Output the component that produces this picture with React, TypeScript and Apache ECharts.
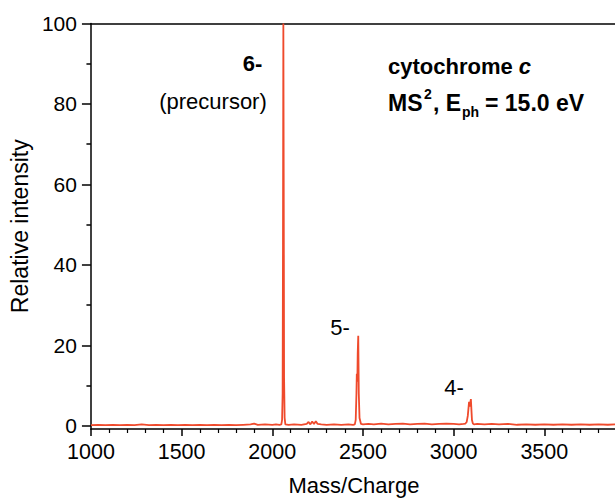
import React, { useEffect, useRef } from "react";
import * as echarts from "echarts";

// Mass/Charge (x) and relative intensity (y) of the spectrum trace
const massCharge = [
  1000, 1040, 1080, 1120, 1160, 1200, 1240, 1280, 1320, 1360, 1400, 1440, 1480,
  1520, 1560, 1600, 1640, 1680, 1720, 1760, 1800, 1840, 1880, 1900, 1920, 1960,
  2000, 2020, 2040, 2050, 2054, 2057, 2059, 2061, 2062, 2063, 2065, 2068, 2072,
  2090, 2120, 2160, 2190, 2200, 2210, 2220, 2230, 2240, 2250, 2270, 2300, 2340,
  2380, 2420, 2445, 2455, 2460, 2464, 2466, 2469, 2471, 2474, 2477, 2481, 2489,
  2500, 2530, 2560, 2600, 2640, 2680, 2720, 2760, 2800, 2840, 2880, 2920, 2960,
  3000, 3030, 3055, 3065, 3072, 3078, 3082, 3085, 3088, 3091, 3095, 3098, 3101,
  3106, 3112, 3130, 3170, 3210, 3250, 3300, 3350, 3400, 3450, 3500, 3550, 3600,
  3650, 3700, 3750, 3800, 3850, 3900, 3950, 4000,
];
const intensity = [
  0.2, 0.3, 0.2, 0.3, 0.2, 0.3, 0.2, 0.4, 0.2, 0.3, 0.2, 0.3, 0.2,
  0.3, 0.2, 0.3, 0.2, 0.3, 0.2, 0.3, 0.2, 0.3, 0.4, 0.6, 0.3, 0.4,
  0.3, 0.4, 0.3, 0.4, 1.5, 8, 45, 100, 100, 60, 12, 2, 0.4,
  0.3, 0.4, 0.3, 0.5, 1.0, 0.4, 1.1, 0.5, 1.2, 0.5, 0.4, 0.3, 0.4,
  0.3, 0.4, 0.3, 0.4, 1.5, 8, 13, 11, 18, 22.4, 8, 2, 0.5,
  0.4, 0.5, 0.4, 0.6, 0.4, 0.5, 0.6, 0.4, 0.5, 0.6, 0.4, 0.5, 0.6,
  0.5, 0.4, 0.5, 0.6, 1.0, 2.5, 4.5, 6.0, 4.8, 5.5, 6.7, 4.0, 1.5,
  0.6, 0.4, 0.5, 0.4, 0.5, 0.4, 0.5, 0.3, 0.4, 0.3, 0.4, 0.3, 0.4,
  0.3, 0.4, 0.3, 0.4, 0.3, 0.4, 0.3, 0.3,
];

const yMajorTicks = [0, 20, 40, 60, 80, 100];
const yMinorTicks = [10, 30, 50, 70, 90];

const xAxisName = "Mass/Charge";
const yAxisName = "Relative intensity";

const FONT = "'Liberation Sans', Arial, Helvetica, sans-serif";
const RED = "#ef4a2c";

function txt(text: string, x: number, y: number, size: number, opts: any = {}) {
  const align = opts.align || "center";
  return {
    type: "text",
    silent: true,
    style: {
      text,
      x,
      y,
      fontSize: size,
      fontFamily: FONT,
      fontWeight: opts.bold ? "bold" : "normal",
      fontStyle: opts.italic ? "italic" : "normal",
      fill: "#000",
      align,
      textAlign: align,
      verticalAlign: "middle",
      textVerticalAlign: "middle",
      rich: opts.rich,
    },
  };
}

export default function App() {
  const ref = useRef<HTMLDivElement>(null);

  useEffect(() => {
    if (!ref.current) return;
    const chart = echarts.init(ref.current, undefined, { renderer: "svg" });
    const data = massCharge.map((m, i) => [m, intensity[i]]);
    const axisLineStyle = { color: "#000", width: 1.5 };
    const plain = (v: number) => String(v);

    chart.setOption({
      animation: false,
      backgroundColor: "#fff",
      textStyle: { fontFamily: FONT },
      grid: { left: 83, top: 23.5, right: 25, bottom: 69, containLabel: false },
      xAxis: [
        {
          type: "value",
          position: "bottom",
          min: 1000,
          max: 4000,
          interval: 500,
          name: xAxisName,
          nameLocation: "middle",
          nameGap: 45,
          nameTextStyle: { fontSize: 22, color: "#000", fontFamily: FONT, padding: [0, 18, 0, 0] },
          axisLine: { show: true, onZero: false, lineStyle: axisLineStyle },
          axisTick: { show: true, inside: false, length: 7, lineStyle: axisLineStyle },
          minorTick: { show: true, splitNumber: 5, length: 4, lineStyle: { color: "#000", width: 1.2 } },
          axisLabel: { fontSize: 21.5, color: "#000", margin: 12, fontFamily: FONT, showMaxLabel: false, formatter: plain },
          splitLine: { show: false },
          minorSplitLine: { show: false },
        },
        {
          type: "value",
          position: "top",
          min: 1000,
          max: 4000,
          axisLine: { show: true, onZero: false, lineStyle: axisLineStyle },
          axisTick: { show: false },
          axisLabel: { show: false },
          splitLine: { show: false },
        },
      ],
      yAxis: [
        {
          type: "value",
          position: "left",
          min: -0.75,
          max: 100,
          name: yAxisName,
          nameLocation: "middle",
          nameGap: 49,
          nameTextStyle: { fontSize: 23, color: "#000", fontFamily: FONT },
          axisLine: { show: true, onZero: false, lineStyle: axisLineStyle },
          axisTick: { show: true, inside: false, length: 9, customValues: yMajorTicks, lineStyle: axisLineStyle },
          axisLabel: { fontSize: 21, color: "#000", margin: 14, fontFamily: FONT, customValues: yMajorTicks, formatter: plain },
          splitLine: { show: false },
        },
        {
          type: "value",
          position: "left",
          min: -0.75,
          max: 100,
          axisLine: { show: false, onZero: false },
          axisTick: { show: true, inside: false, length: 4.5, customValues: yMinorTicks, lineStyle: axisLineStyle },
          axisLabel: { show: false },
          splitLine: { show: false },
        },
      ],
      series: [
        {
          type: "line",
          xAxisIndex: 0,
          yAxisIndex: 0,
          data,
          showSymbol: false,
          symbol: "none",
          lineStyle: { color: RED, width: 1.8 },
          itemStyle: { color: RED },
          silent: true,
          clip: true,
        },
      ],
      graphic: [
        txt("6-", 252.5, 63.5, 22, { bold: true }),
        txt("(precursor)", 213, 101, 22),
        txt("5-", 340, 327, 22),
        txt("4-", 454, 387, 22),
        txt("{b|cytochrome }{i|c}", 388, 66, 22, {
          align: "left",
          bold: true,
          rich: {
            b: { fontSize: 22, fontWeight: "bold", fontFamily: FONT, fill: "#000" },
            i: { fontSize: 22, fontWeight: "bold", fontStyle: "italic", fontFamily: FONT, fill: "#000" },
          },
        }),
        txt("MS", 388, 103, 23, { align: "left", bold: true }),
        txt("2", 424, 94, 14, { align: "left", bold: true }),
        txt(", E", 433, 103, 23, { align: "left", bold: true }),
        txt("ph", 462, 112, 14, { align: "left", bold: true }),
        txt("= 15.0 eV", 485, 103, 23, { align: "left", bold: true }),
      ],
    });

    return () => chart.dispose();
  }, []);

  return (
    <div style={{ position: "fixed", left: 0, top: 0, width: 615, height: 501, overflow: "hidden", background: "#fff" }}>
      <div ref={ref} style={{ width: 660, height: 501 }} />
    </div>
  );
}
